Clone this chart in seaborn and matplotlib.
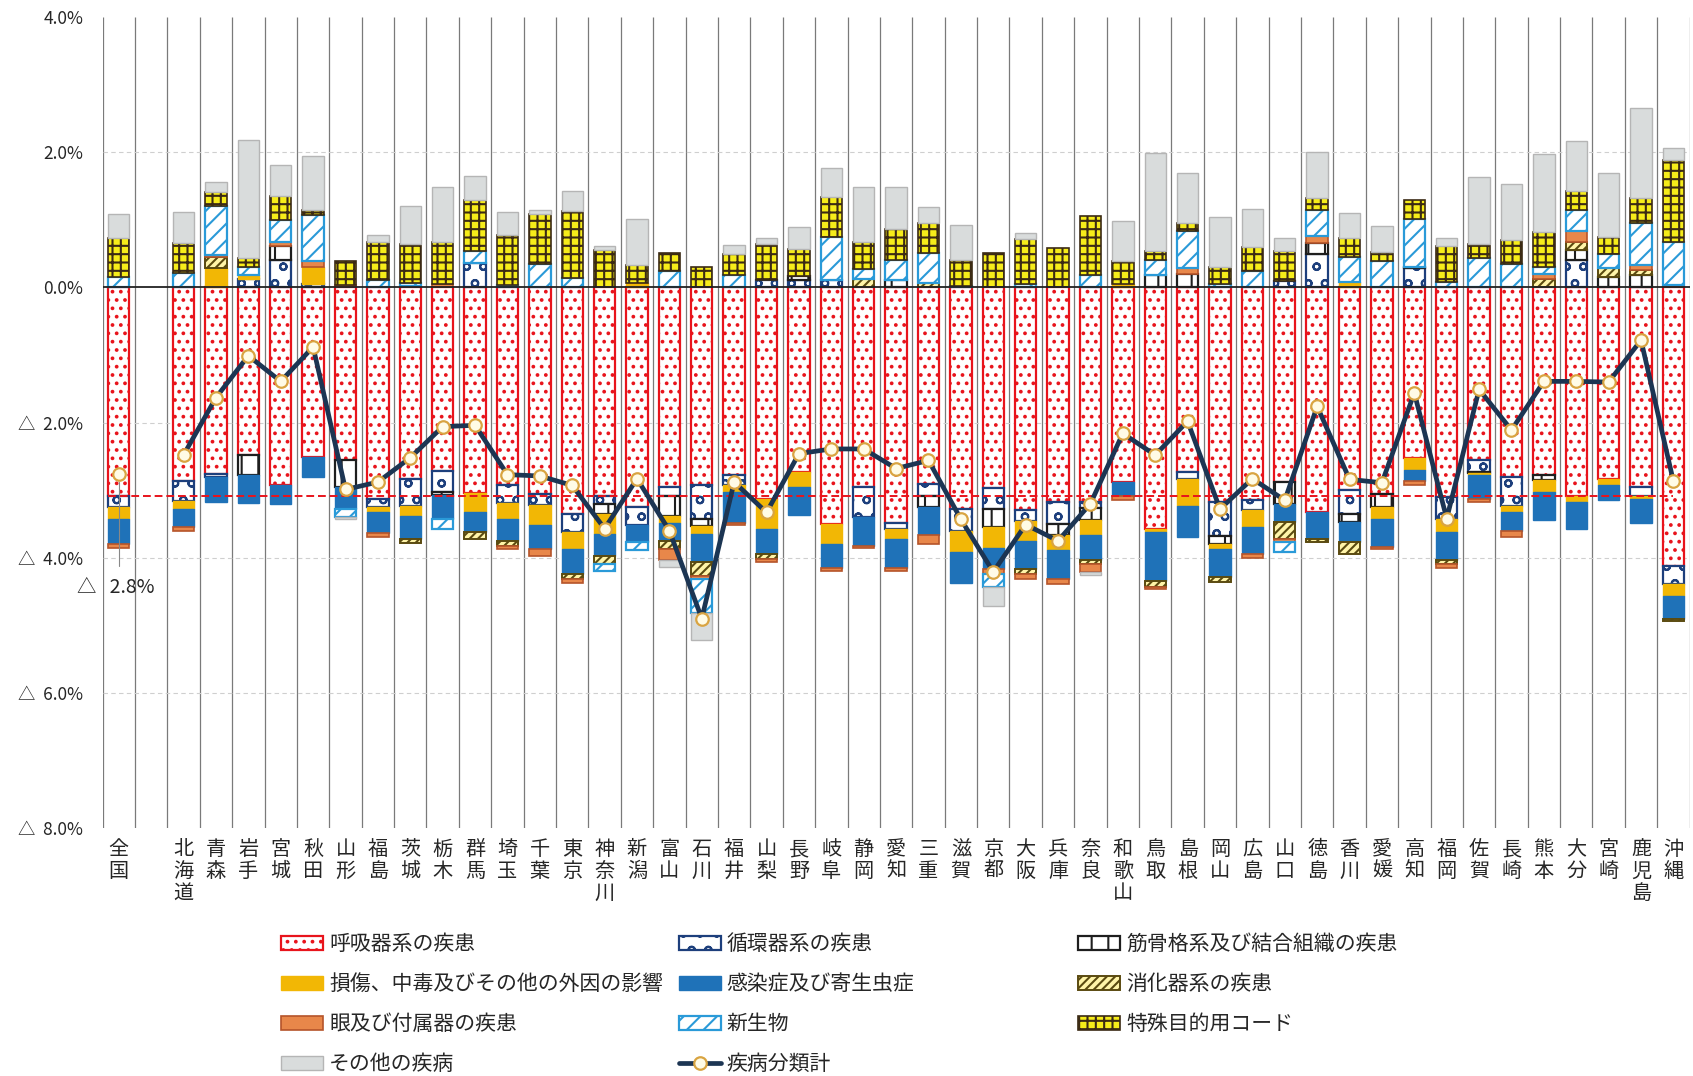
import matplotlib
matplotlib.use("Agg")
import matplotlib.pyplot as plt
from matplotlib.patches import Patch
from matplotlib.lines import Line2D
import numpy as np
import seaborn as sns

sns.set_theme(style="white")
plt.rcParams['font.family'] = ['Noto Sans CJK JP', 'DejaVu Sans']
plt.rcParams['hatch.linewidth'] = 1.5

# --- data (percentage points) ---
prefectures = ["全国", "北海道", "青森", "岩手", "宮城", "秋田", "山形", "福島", "茨城", "栃木",
               "群馬", "埼玉", "千葉", "東京", "神奈川", "新潟", "富山", "石川", "福井", "山梨",
               "長野", "岐阜", "静岡", "愛知", "三重", "滋賀", "京都", "大阪", "兵庫", "奈良",
               "和歌山", "鳥取", "島根", "岡山", "広島", "山口", "徳島", "香川", "愛媛", "高知",
               "福岡", "佐賀", "長崎", "熊本", "大分", "宮崎", "鹿児島", "沖縄"]

resp = [-3.08, -2.86, -2.76, -2.48, -2.93, -2.51, -2.56, -3.13, -2.83, -2.71,
        -3.04, -2.93, -3.05, -3.35, -3.08, -3.25, -2.96, -2.93, -2.78, -3.13,
        -2.73, -3.50, -2.95, -3.48, -2.91, -3.28, -2.97, -3.30, -3.18, -3.17,
        -2.88, -3.57, -2.73, -3.18, -3.15, -2.88, -3.33, -3.00, -3.05, -2.53,
        -3.10, -2.56, -2.81, -2.78, -3.08, -2.83, -2.96, -4.12]
circ = [-0.17, -0.30, -0.05, 0.12, 0.41, 0.05, 0, -0.12, -0.40, -0.32,
        0.36, -0.26, -0.17, -0.27, -0.12, -0.27, -0.12, -0.50, -0.15, 0.11,
        0.11, 0.11, -0.45, -0.10, -0.17, -0.32, -0.31, -0.15, -0.32, -0.10,
        0, 0, -0.10, -0.50, -0.15, 0.10, 0.49, -0.35, 0, 0.29,
        -0.32, -0.17, -0.42, 0, 0.41, 0, -0.12, -0.27]
musc = [0, 0, 0, -0.30, 0.20, 0, -0.40, 0, 0, -0.04,
        0, 0, 0, 0, -0.15, 0, -0.30, -0.10, 0, 0,
        0.06, 0, 0, 0.11, -0.17, 0, -0.27, 0, -0.17, -0.17,
        0, 0.19, 0.20, -0.12, 0, -0.32, 0.17, -0.12, -0.20, 0.02,
        0, -0.02, 0, -0.07, 0.15, 0.15, 0.19, 0]
injury = [-0.17, -0.12, 0.29, 0.07, 0, 0.25, 0, -0.07, -0.15, 0,
          -0.28, -0.24, -0.30, -0.25, -0.30, 0.06, -0.10, -0.12, -0.10, -0.45,
          -0.22, -0.30, 0, -0.15, 0, -0.32, -0.30, -0.30, -0.22, -0.22,
          0.05, -0.05, -0.40, -0.07, -0.25, 0, 0, 0.08, -0.17, -0.17,
          -0.20, -0.03, -0.10, -0.17, -0.10, -0.10, -0.05, -0.18]
infect = [-0.37, -0.27, -0.37, -0.41, -0.27, -0.30, -0.32, -0.32, -0.35, -0.36,
          -0.30, -0.32, -0.35, -0.37, -0.32, -0.25, -0.27, -0.42, -0.45, -0.37,
          -0.42, -0.35, -0.42, -0.42, -0.42, -0.45, -0.32, -0.42, -0.43, -0.37,
          -0.20, -0.72, -0.47, -0.42, -0.40, -0.27, -0.40, -0.30, -0.42, -0.16,
          -0.42, -0.35, -0.27, -0.42, -0.39, -0.22, -0.35, -0.34]
digest = [0, 0, 0.16, 0, 0, 0, 0, 0, -0.05, 0,
          -0.10, -0.07, 0, -0.07, -0.12, 0, -0.12, -0.20, 0, -0.07,
          0, 0, 0.12, 0, 0.06, 0, 0, -0.07, 0, -0.06,
          0, -0.10, 0, -0.07, 0, -0.25, -0.04, -0.17, 0, 0,
          -0.05, 0, 0, 0.13, 0.12, 0.14, 0.07, -0.03]
eye = [-0.06, -0.06, 0.03, 0, 0.07, 0.09, 0.04, -0.05, 0.02, 0.05,
       0, -0.05, -0.10, -0.07, 0, 0, -0.17, -0.05, -0.04, -0.05,
       0, -0.04, -0.04, -0.05, -0.12, 0, -0.07, -0.07, -0.07, -0.12,
       -0.07, -0.03, 0.09, 0, -0.05, -0.05, 0.10, 0, -0.03, -0.06,
       -0.06, -0.05, -0.10, 0.07, 0.15, 0, 0.07, 0.04]
neoplasm = [0.16, 0.21, 0.73, 0.11, 0.32, 0.69, -0.12, 0.11, 0.05, -0.15,
            0.18, 0.03, 0.35, 0.14, -0.10, -0.12, 0.24, -0.50, 0.18, 0,
            0, 0.64, 0.16, 0.30, 0.45, 0.02, -0.20, 0.05, 0, 0.18,
            0, 0.21, 0.54, 0.05, 0.24, -0.15, 0.38, 0.37, 0.39, 0.71,
            0.08, 0.44, 0.35, 0.10, 0.32, 0.20, 0.62, 0.63]
special = [0.57, 0.45, 0.20, 0.13, 0.35, 0.07, 0.35, 0.57, 0.57, 0.63,
           0.76, 0.75, 0.74, 0.99, 0.56, 0.27, 0.27, 0.31, 0.32, 0.54,
           0.40, 0.59, 0.39, 0.45, 0.45, 0.39, 0.51, 0.67, 0.58, 0.88,
           0.34, 0.14, 0.12, 0.26, 0.36, 0.44, 0.19, 0.28, 0.14, 0.28,
           0.53, 0.21, 0.36, 0.52, 0.28, 0.26, 0.38, 1.22]
other = [0.36, 0.45, 0.15, 1.75, 0.47, 0.79, -0.03, 0.09, 0.56, 0.80,
         0.35, 0.33, 0.06, 0.30, 0.06, 0.68, -0.10, -0.40, 0.13, 0.08,
         0.33, 0.43, 0.81, 0.62, 0.23, 0.52, -0.28, 0.08, 0, -0.05,
         0.59, 1.45, 0.74, 0.73, 0.56, 0.19, 0.67, 0.37, 0.38, 0,
         0.12, 0.98, 0.82, 1.16, 0.74, 0.95, 1.33, 0.17]
total = [-2.76, -2.48, -1.63, -1.01, -1.39, -0.88, -2.99, -2.88, -2.52, -2.06,
         -2.04, -2.77, -2.79, -2.93, -3.57, -2.83, -3.60, -4.90, -2.88, -3.33,
         -2.46, -2.39, -2.39, -2.68, -2.56, -3.43, -4.21, -3.51, -3.75, -3.20,
         -2.16, -2.48, -1.98, -3.28, -2.83, -3.15, -1.76, -2.84, -2.89, -1.56,
         -3.42, -1.51, -2.11, -1.39, -1.39, -1.40, -0.78, -2.87]

y_ticks = [4, 2, 0, -2, -4, -6, -8]
y_tick_labels = ["4.0%", "2.0%", "0.0%", "△  2.0%", "△  4.0%", "△  6.0%", "△  8.0%"]
national_label = "△   2.8%"

# stacking order (same on both sides of zero)
series = [
    ("呼吸器系の疾患", resp),
    ("循環器系の疾患", circ),
    ("筋骨格系及び結合組織の疾患", musc),
    ("損傷、中毒及びその他の外因の影響", injury),
    ("感染症及び寄生虫症", infect),
    ("消化器系の疾患", digest),
    ("眼及び付属器の疾患", eye),
    ("新生物", neoplasm),
    ("特殊目的用コード", special),
    ("その他の疾病", other),
]
styles = {
    "呼吸器系の疾患": dict(facecolor="white", edgecolor="#e8141c", hatch="..", lw=1.6),
    "循環器系の疾患": dict(facecolor="white", edgecolor="#1d3f7c", hatch="o", lw=1.6),
    "筋骨格系及び結合組織の疾患": dict(facecolor="white", edgecolor="#1e1e1e", hatch="|", lw=1.6),
    "損傷、中毒及びその他の外因の影響": dict(facecolor="#f2b705", edgecolor="#f2b705", hatch=None, lw=1),
    "感染症及び寄生虫症": dict(facecolor="#1f72b8", edgecolor="#1f72b8", hatch=None, lw=1),
    "消化器系の疾患": dict(facecolor="#fff4a8", edgecolor="#5a4a10", hatch="////", lw=1.4),
    "眼及び付属器の疾患": dict(facecolor="#e8874a", edgecolor="#b5542a", hatch=None, lw=1.2),
    "新生物": dict(facecolor="white", edgecolor="#2a9ad8", hatch="//", lw=1.6),
    "特殊目的用コード": dict(facecolor="#f6ec1a", edgecolor="#3b2a14", hatch="++", lw=1.2),
    "その他の疾病": dict(facecolor="#d9dcdc", edgecolor="#b5b5b5", hatch=None, lw=1),
}
line_color = "#1c3553"
marker_face = "#fffbe6"
marker_edge = "#d9a441"

# 全国 sits alone, one empty slot before 北海道
x_pos = np.array([0] + list(range(2, len(prefectures) + 1)))

fig = plt.figure(figsize=(16.93, 10.76), dpi=100)
ax = fig.add_axes([0.0606, 0.2305, 0.9374, 0.7535])
ax.set_xlim(-0.5, 48.5)
ax.set_ylim(-8, 4)
for s in ax.spines.values():
    s.set_visible(False)

# slot separators and light horizontal guides
ax.vlines(np.arange(-0.5, 49.0, 1.0), -8, 4, color="#7a7a7a", lw=0.9, zorder=0)
for yv in [2, -2, -4, -6]:
    ax.axhline(yv, color="#cfcfcf", lw=0.8, ls=(0, (4, 3)), zorder=0)

pos_bottom = np.zeros(len(prefectures))
neg_bottom = np.zeros(len(prefectures))
width = 0.66
for name, vals in series:
    v = np.array(vals, dtype=float)
    st = styles[name]
    pos = np.where(v > 0, v, 0)
    neg = np.where(v < 0, v, 0)
    for part, bottom in ((pos, pos_bottom), (neg, neg_bottom)):
        mask = part != 0
        ax.bar(x_pos[mask], part[mask], bottom=bottom[mask], width=width,
               facecolor=st["facecolor"], edgecolor=st["edgecolor"],
               hatch=st["hatch"], linewidth=st["lw"], zorder=2)
    pos_bottom += pos
    neg_bottom += neg

ax.axhline(0, color="#222222", lw=1.3, zorder=3)
ax.hlines(resp[0], x_pos[0] - width / 2, 48.0, color="#e8141c", lw=1.4,
          ls=(0, (4, 2)), zorder=4)

# total line (全国 stands apart, no connection)
mk = dict(marker="o", markersize=9, markerfacecolor=marker_face,
          markeredgecolor=marker_edge, markeredgewidth=1.6)
sns.lineplot(x=x_pos[1:], y=total[1:], color=line_color, lw=3.4, sort=False,
             ax=ax, zorder=5, **mk)
ax.plot([x_pos[0]], [total[0]], ls="none", zorder=5, **mk)
ax.plot([x_pos[0], x_pos[0]], [total[0] - 0.12, -4.12], color="#888888", lw=0.8, zorder=5)
ax.text(x_pos[0] - 0.08, -4.44, national_label, ha="center", va="center", fontsize=14,
        zorder=6)

ax.set_yticks(y_ticks)
ax.set_yticklabels(y_tick_labels, fontsize=12.5)
ax.set_xticks(x_pos)
ax.set_xticklabels(["\n".join(p) for p in prefectures], fontsize=14.5, linespacing=1.05,
                   va="top")
ax.tick_params(axis="y", length=0, pad=14)
ax.tick_params(axis="x", length=0, pad=8)
ax.grid(False)

def make_patch(name):
    st = styles[name]
    return Patch(facecolor=st["facecolor"], edgecolor=st["edgecolor"], hatch=st["hatch"],
                 linewidth=st["lw"], label=name)

line_handle = Line2D([], [], color=line_color, lw=3.4, label="疾病分類計", **mk)
legend_cols = [
    ([make_patch(n) for n in ["呼吸器系の疾患", "損傷、中毒及びその他の外因の影響",
                              "眼及び付属器の疾患", "その他の疾病"]], 0.166),
    ([make_patch(n) for n in ["循環器系の疾患", "感染症及び寄生虫症", "新生物"]] + [line_handle], 0.401),
    ([make_patch(n) for n in ["筋骨格系及び結合組織の疾患", "消化器系の疾患", "特殊目的用コード"]], 0.637),
]
for handles, lx in legend_cols:
    leg = fig.legend(handles=handles, loc="upper left", bbox_to_anchor=(lx, 0.133),
                     frameon=False, fontsize=15, handlelength=2.0, handleheight=0.65,
                     handletextpad=0.3, labelspacing=0.87, borderpad=0, borderaxespad=0)

fig.savefig("out.png", dpi=100)
